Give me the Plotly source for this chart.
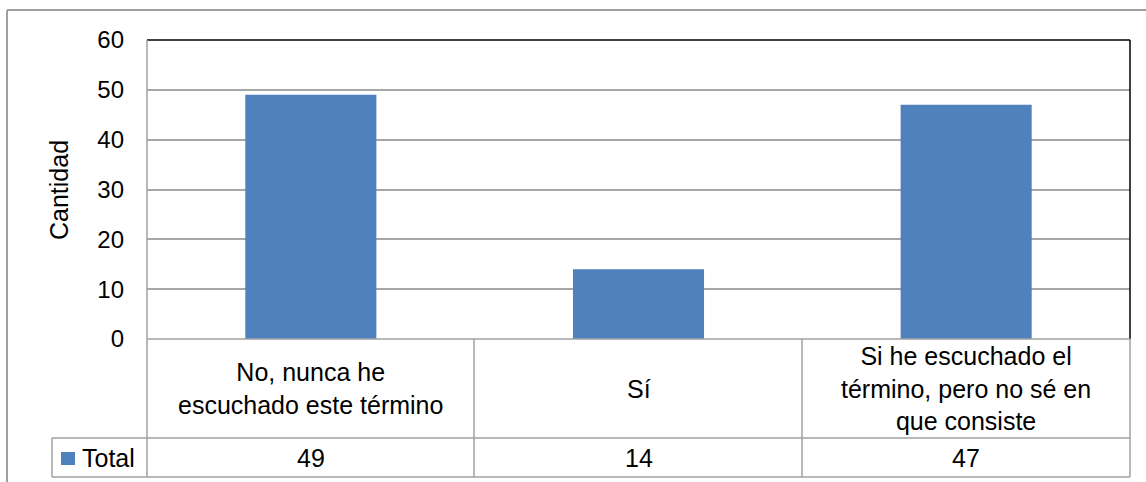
import plotly.graph_objects as go

categories = ["No, nunca he escuchado este término", "Sí",
              "Si he escuchado el término, pero no sé en que consiste"]
category_labels = ["No, nunca he<br>escuchado este término", "Sí",
                   "Si he escuchado el<br>término, pero no sé en<br>que consiste"]
series_name = "Total"
values = [49, 14, 47]
y_title = "Cantidad"

W, H = 1146, 482
FONT = "Liberation Sans, Arial, sans-serif"
FS = 25
BAR = "#4F81BD"
GRID = "#A6A6A6"
TBL = "#A0A0A0"

def px(x):
    return x / W

def py(y):
    return 1 - y / H

plot_l, plot_r, plot_t, plot_b = 147, 1130, 40, 339
row1_b, row2_b = 438, 477
legend_l = 52
col_edges = [147, 474, 802, 1130]

fig = go.Figure()
fig.add_trace(go.Bar(x=categories, y=values, name=series_name,
                     marker=dict(color=BAR, line=dict(width=0)),
                     showlegend=False))

shapes = []
def line(x0, y0, x1, y1, color=TBL, width=1.5):
    shapes.append(dict(type="line", xref="paper", yref="paper",
                       x0=px(x0), y0=py(y0), x1=px(x1), y1=py(y1),
                       line=dict(color=color, width=width)))

# outer chart border (clipped at right/bottom)
line(7, 10, W + 5, 10, color="#A0A0A0", width=2)
line(7, 10, 7, H + 5, color="#A0A0A0", width=2)
# plot area border
line(plot_l, plot_t, plot_r, plot_t, color="#000000", width=1.5)
line(plot_r, plot_t, plot_r, plot_b, color="#000000", width=1.5)
line(plot_l, plot_t, plot_l, plot_b, color=TBL, width=1.5)
# data table
line(plot_l, plot_b, plot_r, plot_b)
line(legend_l, row1_b, plot_r, row1_b)
line(legend_l, row2_b, plot_r, row2_b)
line(legend_l, row1_b, legend_l, row2_b)
for xe in col_edges:
    line(xe, plot_b, xe, row2_b)
# legend key
shapes.append(dict(type="rect", xref="paper", yref="paper",
                   x0=px(61), x1=px(75), y0=py(465), y1=py(452),
                   fillcolor=BAR, line=dict(width=0)))

annotations = []
for cat, lab, v in zip(categories, category_labels, values):
    annotations.append(dict(x=cat, xref="x", y=py((plot_b + row1_b) / 2), yref="paper",
                            text=lab, showarrow=False, yanchor="middle",
                            font=dict(family=FONT, size=FS, color="#000000")))
    annotations.append(dict(x=cat, xref="x", y=py((row1_b + row2_b) / 2), yref="paper",
                            text=str(v), showarrow=False, yanchor="middle",
                            font=dict(family=FONT, size=FS, color="#000000")))
annotations.append(dict(x=px(80), xref="paper", y=py((row1_b + row2_b) / 2), yref="paper",
                        text=series_name, showarrow=False, xanchor="left", yanchor="middle",
                        font=dict(family=FONT, size=FS, color="#000000")))
annotations.append(dict(x=px(59), xref="paper", y=py(190), yref="paper",
                        text=y_title, textangle=-90, showarrow=False,
                        xanchor="center", yanchor="middle",
                        font=dict(family=FONT, size=FS, color="#000000")))

fig.update_layout(
    width=W, height=H,
    autosize=False,
    margin=dict(l=0, r=0, t=0, b=0, pad=0, autoexpand=False),
    paper_bgcolor="white", plot_bgcolor="white",
    bargap=0.6,
    xaxis=dict(domain=[px(plot_l), px(plot_r)], showticklabels=False,
               showgrid=False, zeroline=False, showline=False, ticks="",
               automargin=False),
    yaxis=dict(domain=[py(plot_b), py(plot_t)], range=[0, 60], dtick=10,
               showgrid=True, gridcolor=GRID, gridwidth=1.5,
               zeroline=False, showline=False, ticks="", automargin=False,
               ticklabelstandoff=22,
               tickfont=dict(family=FONT, size=24, color="#000000")),
    shapes=shapes,
    annotations=annotations,
)

fig.write_html("out.html", config={"displayModeBar": False},
               post_script="document.body.style.margin='0';")
